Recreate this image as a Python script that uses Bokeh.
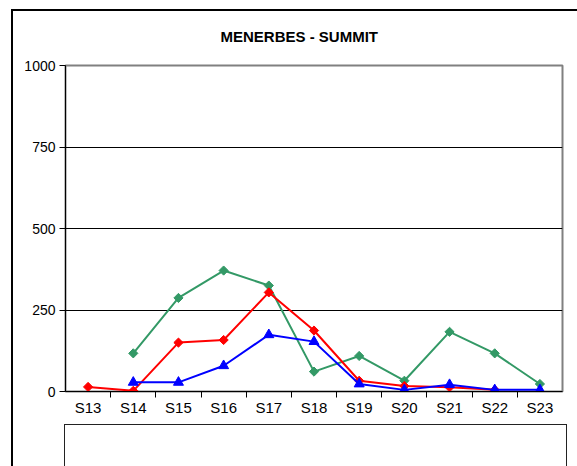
import numpy as np
from bokeh.plotting import figure
from bokeh.models import (FactorRange, Range1d, LinearAxis, CategoricalAxis, FixedTicker,
                          Legend, LegendItem, Title, Grid, ColumnDataSource, InlineStyleSheet)
from bokeh.embed import file_html
from bokeh.resources import INLINE

weeks = ["S13", "S14", "S15", "S16", "S17", "S18", "S19", "S20", "S21", "S22", "S23"]
y2014 = [np.nan, 117, 287, 371, 325, 61, 109, 33, 183, 117, 23]
y2015 = [14, 2, 150, 158, 304, 187, 33, 17, 13, 5, np.nan]
y2016 = [np.nan, 28, 28, 79, 174, 153, 23, 5, 21, 5, 5]
y_ticks = [0, 250, 500, 750, 1000]
series_names = ["2014", "2015", "2016"]

FONT = "Liberation Sans"

p = figure(frame_width=497, frame_height=326,
           x_range=FactorRange(*weeks, range_padding=0),
           y_range=Range1d(0, 1000),
           x_axis_location=None, y_axis_location=None,
           output_backend="svg", toolbar_location=None,
           min_border_left=65, min_border_right=15, min_border_top=65, min_border_bottom=75,
           background_fill_color="white", border_fill_color="white")
p.grid.visible = False
p.outline_line_color = "#808080"
p.outline_line_width = 2
p.title = Title(text="MENERBES - SUMMIT", align="left", offset=155,
                text_font=FONT, text_font_style="bold", text_font_size="15px",
                text_color="black", standoff=41)

# Y axis
yaxis = LinearAxis(ticker=FixedTicker(ticks=y_ticks), major_tick_out=6, major_tick_in=0,
                   minor_tick_line_color=None, axis_line_color="black", axis_line_width=1,
                   major_tick_line_color="black", major_label_standoff=4,
                   major_label_text_font=FONT, major_label_text_font_size="14px",
                   major_label_text_color="black")
p.add_layout(yaxis, "left")

p.add_layout(Grid(dimension=1, ticker=FixedTicker(ticks=y_ticks[1:-1]),
                  grid_line_color="black", grid_line_width=1))

# X tick marks between categories: a shifted categorical range of boundaries
bounds = [f"b{i}" for i in range(len(weeks) + 1)]
p.extra_x_ranges = {"slots": FactorRange(*bounds, range_padding=-0.5, range_padding_units="absolute")}
tick_axis = CategoricalAxis(x_range_name="slots",
                            major_tick_out=6, major_tick_in=0,
                            axis_line_color="black", axis_line_width=1, major_tick_line_color="black",
                            major_label_text_alpha=0, major_label_text_font_size="1px",
                            major_label_standoff=0)
p.add_layout(tick_axis, "below")
label_axis = CategoricalAxis(axis_line_color=None, major_tick_line_color=None,
                             major_label_standoff=-5, major_label_text_font=FONT,
                             major_label_text_font_size="15px", major_label_text_color="black")
p.add_layout(label_axis, "below")

src = ColumnDataSource(dict(x=weeks, a=y2014, b=y2015, c=y2016))
green, red, blue = "#339966", "#FF0000", "#0000FF"
l1 = p.line("x", "a", source=src, line_color=green, line_width=2)
m1 = p.scatter("x", "a", source=src, marker="square", angle=np.pi / 4, size=6.5,
               fill_color=green, line_color=green)
l2 = p.line("x", "b", source=src, line_color=red, line_width=2)
m2 = p.scatter("x", "b", source=src, marker="square", angle=np.pi / 4, size=6.5,
               fill_color=red, line_color=red)
l3 = p.line("x", "c", source=src, line_color=blue, line_width=2)
m3 = p.scatter("x", "c", source=src, marker="triangle", size=10, fill_color=blue, line_color=blue)

legend = Legend(items=[LegendItem(label=series_names[0], renderers=[l1, m1]),
                       LegendItem(label=series_names[1], renderers=[l2, m2]),
                       LegendItem(label=series_names[2], renderers=[l3, m3])],
                location="center", orientation="horizontal", glyph_width=34, glyph_height=16,
                label_standoff=5, label_width=35, label_height=20, spacing=96, padding=0, margin=12,
                border_line_alpha=0, background_fill_alpha=0,
                label_text_font=FONT, label_text_font_size="15px", label_text_color="black")
p.add_layout(legend, "below")

# chart border and legend box as CSS overlays of the figure element
p.stylesheets = [InlineStyleSheet(css="""
:host { position: relative; }
:host::before { content: ""; position: absolute; left: 11px; top: 9px; width: 566px; height: 457px;
  box-sizing: border-box; border-top: 2px solid #000; border-left: 2px solid #000;
  z-index: 10; pointer-events: none; }
:host::after { content: ""; position: absolute; left: 64px; top: 424px; width: 503px; height: 42px;
  box-sizing: border-box; border: 1px solid #222; border-bottom: none;
  z-index: 10; pointer-events: none; }
""")]

open("out.html", "w").write(file_html(p, INLINE))
